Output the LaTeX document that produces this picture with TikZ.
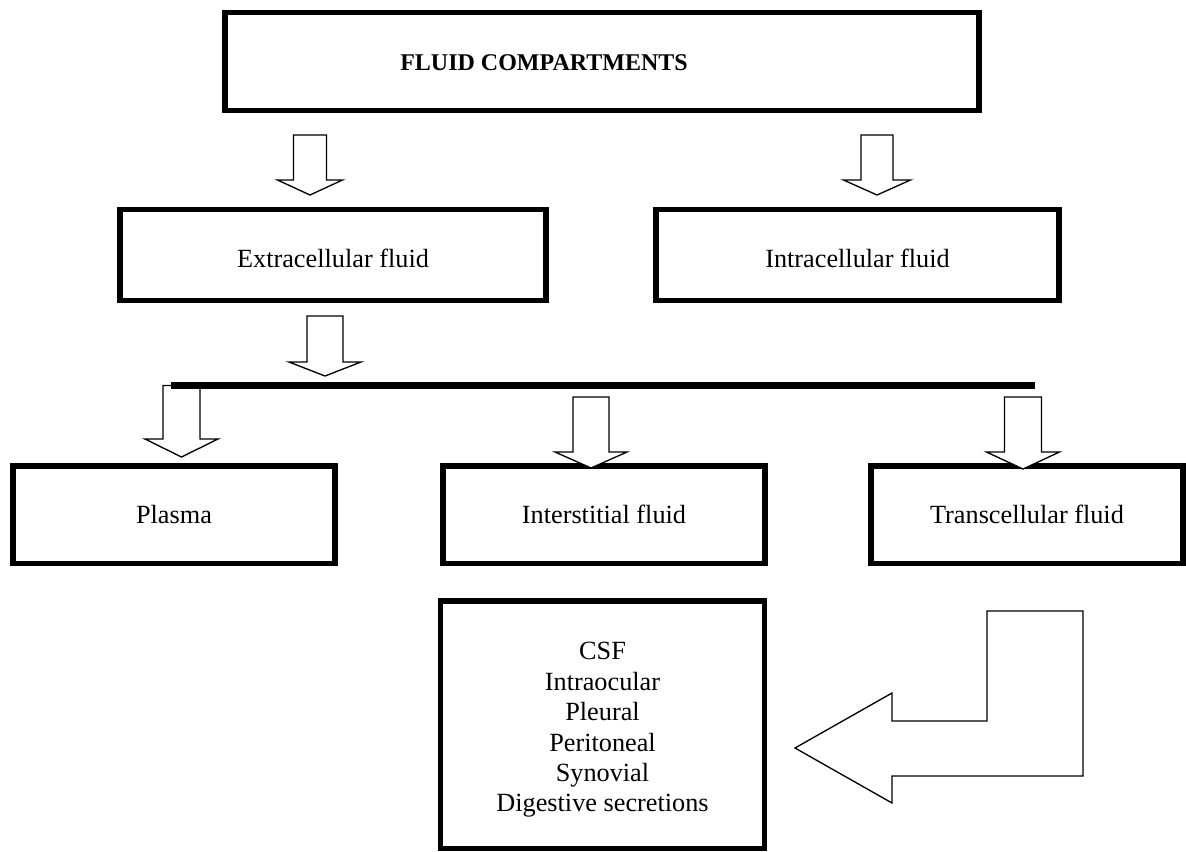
\documentclass[tikz,border=0pt]{standalone}
\usepackage{fontspec}
\setmainfont{Liberation Serif}
% downward block arrow: centre x, shaft half width, head half width, top y, head base y, tip y
\newcommand\blockdown[6]{%
  \draw[blockline] (#1-#2,#4) -- (#1+#2,#4) -- (#1+#2,#5) -- (#1+#3,#5)
    -- (#1,#6) -- (#1-#3,#5) -- (#1-#2,#5) -- cycle;}
\begin{document}
\begin{tikzpicture}[x=0.75pt,y=-0.75pt,
  box/.style={draw, line width=4.1pt, inner sep=0pt, align=center,
    font=\fontsize{19.7}{22.8}\selectfont},
  rowbox/.style={box, minimum height=68.25pt},
  lowbox/.style={box, minimum height=73.1pt},
  label/.style={inner sep=0pt, align=center, font=\fontsize{19.7}{22.8}\selectfont},
  blockline/.style={draw, line width=1pt, fill=white, line join=miter},
]
\useasboundingbox (0,0) rectangle (1186,851);

% title box
\node[box, minimum width=565.5pt, minimum height=73.5pt] (top) at (602,61.5) {};
\node[font=\fontsize{18}{21}\selectfont\bfseries, inner sep=0pt] (toptext) at (544,63) {FLUID COMPARTMENTS};

% second row
\node[rowbox, minimum width=319.5pt] (ecf) at (333,255) {};
\node[label] (ecftext) at (333,258) {Extracellular fluid};
\node[rowbox, minimum width=302.25pt] (icf) at (857.5,255) {};
\node[label] (icftext) at (857.5,258) {Intracellular fluid};

% third row
\node[lowbox, minimum width=241.5pt] (plasma) at (174,514.75) {Plasma};
\node[lowbox, minimum width=241.5pt] (isf) at (604,514.75) {Interstitial fluid};
\node[lowbox, minimum width=234pt] (tcf) at (1027,514.75) {Transcellular fluid};

% list of transcellular fluids
\node[box, minimum width=243pt, minimum height=185.6pt] (list) at (602.5,724.75) {};
\node[label] (listtext) at (602.5,730)
  {CSF\\Intraocular\\Pleural\\Peritoneal\\Synovial\\Digestive secretions};

% block arrows
\blockdown{310}{16.5}{32.5}{135}{180}{195}
\blockdown{877}{16}{33.5}{135}{180}{195}
\blockdown{325}{18}{36}{316}{362}{376}
\blockdown{181.5}{18.5}{36.5}{385.5}{439}{457}
\blockdown{591}{18}{36}{397}{452}{468}
\blockdown{1023}{18.5}{36.5}{397}{452}{469}

% distribution bar
\coordinate (barL) at (171,385.5);
\coordinate (barR) at (1035,385.5);
\draw[line width=5.25pt] (barL) -- (barR);

% bent arrow pointing to the list
\draw[blockline] (987,611) -- (1083,611) -- (1083,776) -- (892,776) -- (892,803)
  -- (795,748) -- (892,693) -- (892,721) -- (987,721) -- cycle;
\end{tikzpicture}
\end{document}
